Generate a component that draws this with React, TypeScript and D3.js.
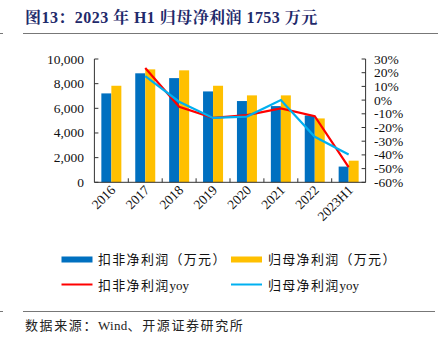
import React from "react";
import * as d3 from "d3";

const categories = ["2016", "2017", "2018", "2019", "2020", "2021", "2022", "2023H1"];
const kfProfit = [7210, 8840, 8450, 7370, 6590, 6180, 5420, 1275];
const gmProfit = [7830, 9160, 9080, 7830, 7050, 7050, 5180, 1753];
const kfYoy: (number | null)[] = [null, 23.5, -4.8, -12.9, -11, -6, -11.7, -49];
const gmYoy: (number | null)[] = [null, 17.5, -1.2, -13, -12, 0, -26.8, -39.7];
const leftTicks = [0, 2000, 4000, 6000, 8000, 10000];
const rightTicks = [30, 20, 10, 0, -10, -20, -30, -40, -50, -60];

const W = 438, H = 342;
const L = 94.4, R = 365.6, T = 59, B = 182.3;
const serif = "'Liberation Serif', 'Times New Roman', 'Noto Serif CJK SC', 'Noto Sans CJK SC', serif";
const cjk = "'Liberation Serif', 'Noto Sans CJK SC', serif";

export default function App() {
  const x = d3.scaleBand<string>().domain(categories).range([L, R]).padding(0);
  const y = d3.scaleLinear().domain([0, 10000]).range([B, T]);
  const y2 = d3.scaleLinear().domain([-60, 30]).range([B, T]);
  const bw = 10;
  const fmt = d3.format(",");
  const line = d3
    .line<number | null>()
    .defined((d) => d !== null)
    .x((_, i) => (x(categories[i]) as number) + x.bandwidth() / 2)
    .y((d) => y2(d as number));

  return (
    <svg width={W} height={H} style={{ position: "absolute", left: 0, top: 0, background: "#fff" }}>
      <text x={25} y={23} fontFamily={serif} fontWeight="bold" fontSize={16} letterSpacing={0.45} fill="#1F2A6B">
        图13：2023 年 H1 归母净利润 1753 万元
      </text>
      <line x1={23} x2={438} y1={33.5} y2={33.5} stroke="#777" strokeWidth={1} />
      <line x1={0} x2={3} y1={33.5} y2={33.5} stroke="#777" strokeWidth={1} />

      {categories.map((c, i) => {
        const cx = (x(c) as number) + x.bandwidth() / 2;
        return (
          <g key={c}>
            <rect x={cx - bw} y={y(kfProfit[i])} width={bw} height={B - y(kfProfit[i])} fill="#0070C0" />
            <rect x={cx} y={y(gmProfit[i])} width={bw} height={B - y(gmProfit[i])} fill="#FFC000" />
          </g>
        );
      })}

      {/* axes */}
      <line x1={L} x2={L} y1={T} y2={B} stroke="#333" strokeWidth={1} />
      <line x1={R} x2={R} y1={T} y2={B} stroke="#333" strokeWidth={1} />
      <line x1={L} x2={R} y1={B} y2={B} stroke="#333" strokeWidth={1} />
      {leftTicks.map((t) => (
        <g key={t}>
          <line x1={L} x2={L + 4} y1={y(t)} y2={y(t)} stroke="#333" />
          <text x={84} y={y(t) + 4.5} textAnchor="end" fontFamily={serif} fontSize={13.5} fill="#111">
            {fmt(t)}
          </text>
        </g>
      ))}
      {rightTicks.map((t) => (
        <g key={t}>
          <line x1={R - 4} x2={R} y1={y2(t)} y2={y2(t)} stroke="#333" />
          <text x={374} y={y2(t) + 4.5} textAnchor="start" fontFamily={serif} fontSize={13.5} fill="#111">
            {t}%
          </text>
        </g>
      ))}
      {categories.map((c, i) =>
        i === 0 ? null : (
          <line key={"t" + c} x1={x(c) as number} x2={x(c) as number} y1={B} y2={B - 4} stroke="#333" />
        )
      )}
      {categories.map((c) => {
        const cx = (x(c) as number) + x.bandwidth() / 2;
        return (
          <text
            key={"l" + c}
            transform={`translate(${cx + 5},${191}) rotate(-45)`}
            textAnchor="end"
            fontFamily={serif}
            fontSize={13.5}
            fill="#111"
          >
            {c}
          </text>
        );
      })}

      <path d={line(kfYoy) || ""} fill="none" stroke="#FF0000" strokeWidth={2.2} />
      <path d={line(gmYoy) || ""} fill="none" stroke="#00B0F0" strokeWidth={2.2} />

      {/* legend */}
      <rect x={61.5} y={256.5} width={31} height={6} fill="#0070C0" />
      <text x={98} y={264} fontFamily={cjk} fontSize={13} letterSpacing={1.3} fill="#111">扣非净利润（万元）</text>
      <rect x={231} y={256.5} width={31} height={6} fill="#FFC000" />
      <text x={268} y={264} fontFamily={cjk} fontSize={13} letterSpacing={1.3} fill="#111">归母净利润（万元）</text>
      <line x1={61.5} x2={92.5} y1={284.5} y2={284.5} stroke="#FF0000" strokeWidth={2} />
      <text x={98} y={290} fontFamily={cjk} fontSize={13} letterSpacing={1.3} fill="#111">扣非净利润<tspan letterSpacing={0}>yoy</tspan></text>
      <line x1={231} x2={262} y1={284.5} y2={284.5} stroke="#00B0F0" strokeWidth={2} />
      <text x={268} y={290} fontFamily={cjk} fontSize={13} letterSpacing={1.3} fill="#111">归母净利润<tspan letterSpacing={0}>yoy</tspan></text>

      <line x1={23} x2={435} y1={311.5} y2={311.5} stroke="#777" strokeWidth={1} />
      <line x1={0} x2={3} y1={311.5} y2={311.5} stroke="#777" strokeWidth={1} />
      <text x={25} y={330} fontFamily={cjk} fontSize={13} letterSpacing={1.6} fill="#222">数据来源：<tspan letterSpacing={0.3}>Wind</tspan>、开源证券研究所</text>
    </svg>
  );
}
